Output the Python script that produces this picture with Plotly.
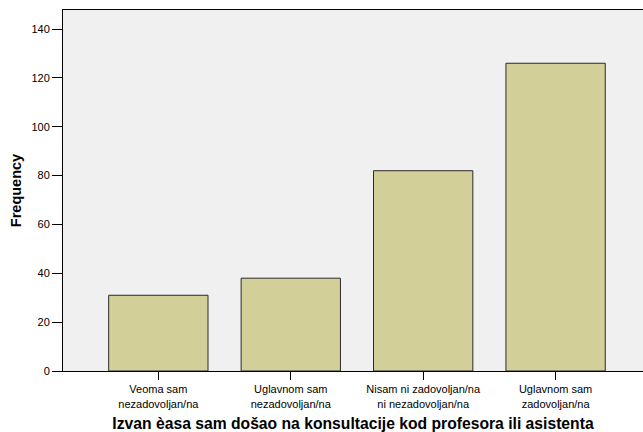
import plotly.graph_objects as go

categories = ["Veoma sam<br>nezadovoljan/na", "Uglavnom sam<br>nezadovoljan/na",
              "Nisam ni zadovoljan/na<br>ni nezadovoljan/na", "Uglavnom sam<br>zadovoljan/na"]
frequency = [31, 38, 82, 126]
y_ticks = [0, 20, 40, 60, 80, 100, 120, 140]

fig = go.Figure()
fig.add_trace(go.Bar(x=[0, 1, 2, 3], y=frequency, width=0.75,
                     marker=dict(color="#d3cf98", line=dict(color="#2a2a2a", width=1))))

fig.update_layout(
    width=643, height=432,
    margin=dict(l=63, r=0, t=10, b=61),
    plot_bgcolor="#f0f0f0", paper_bgcolor="white",
    font=dict(family="Liberation Sans, Arial, sans-serif", color="black", size=11),
    showlegend=False,
)
fig.update_xaxes(
    tickmode="array", tickvals=[0, 1, 2, 3], ticktext=categories,
    range=[-0.72, 3.66], showgrid=False, zeroline=False,
    showline=True, linecolor="black", linewidth=1, mirror=True,
    ticks="outside", ticklen=8, tickcolor="black", tickfont=dict(size=11),
    title=dict(text="<b>Izvan èasa sam došao na konsultacije kod profesora ili asistenta</b>",
               font=dict(size=15.7), standoff=10),
)
fig.update_yaxes(
    tickvals=y_ticks, range=[0, 147.8], showgrid=False, zeroline=False,
    showline=True, linecolor="black", linewidth=1,
    ticks="outside", ticklen=10, tickcolor="black", tickfont=dict(size=11),
    title=dict(text="<b>Frequency</b>", font=dict(size=14.5), standoff=6),
)

# drop the default page margin so the figure sits at the window's corner
fig.write_html("out.html", config={"displayModeBar": False},
               post_script="document.body.style.margin='0';")
